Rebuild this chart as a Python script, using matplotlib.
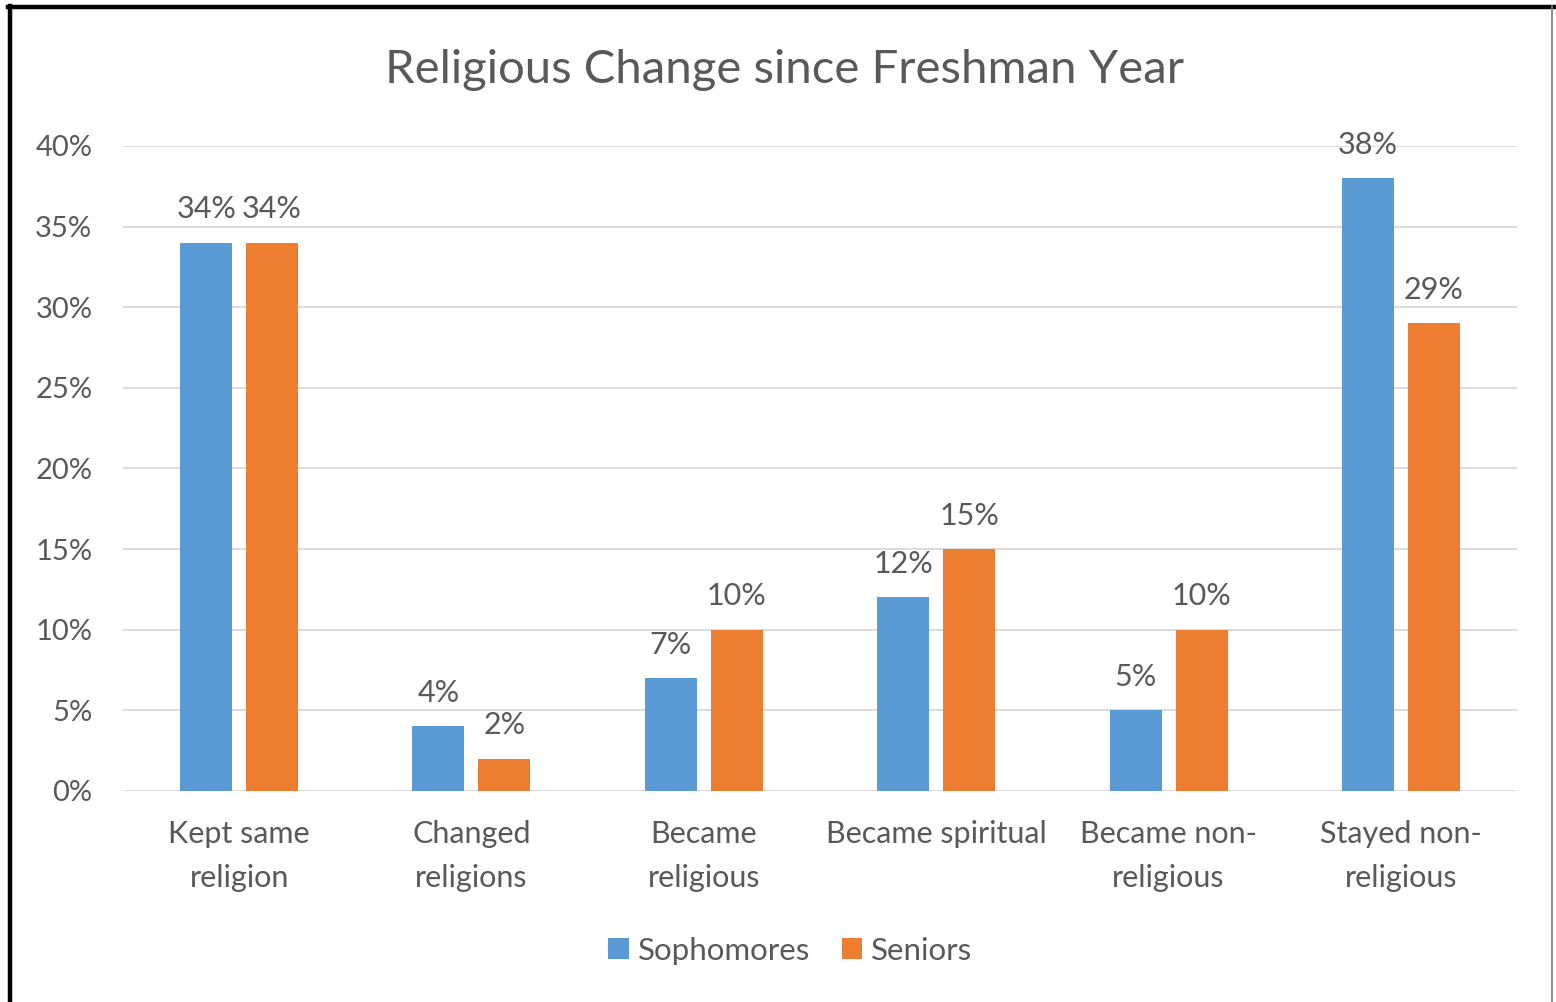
import matplotlib.pyplot as plt
import numpy as np
from matplotlib.lines import Line2D
from matplotlib.ticker import PercentFormatter

categories = ['Kept same\nreligion', 'Changed\nreligions', 'Became\nreligious',
              'Became spiritual', 'Became non-\nreligious', 'Stayed non-\nreligious']
sophomores = [34, 4, 7, 12, 5, 38]
seniors = [34, 2, 10, 15, 10, 29]
y_ticks = [0, 5, 10, 15, 20, 25, 30, 35, 40]

blue = '#5B9BD5'
orange = '#ED7D31'
grey_text = '#595959'

plt.rcParams['font.family'] = ['Lato', 'DejaVu Sans']

fig = plt.figure(figsize=(15.56, 10.02), dpi=100)
ax = fig.add_axes([0.0790, 0.2106, 0.8960, 0.6437])

x = np.arange(len(categories))
w = 0.224
off = 0.142
b1 = ax.bar(x - off, sophomores, w, color=blue, label='Sophomores', zorder=3)
b2 = ax.bar(x + off, seniors, w, color=orange, label='Seniors', zorder=3)

for bars in (b1, b2):
    for rect in bars:
        h = rect.get_height()
        ax.annotate(f'{h:g}%', (rect.get_x() + rect.get_width() / 2, h),
                    xytext=(0, 14), textcoords='offset points',
                    ha='center', va='bottom', fontsize=22, color=grey_text)

ax.set_xlim(-0.5, len(categories) - 0.5)
ax.set_ylim(0, 40)
ax.set_yticks(y_ticks)
ax.yaxis.set_major_formatter(PercentFormatter(decimals=0))
ax.set_xticks(x)
ax.set_xticklabels(categories, linespacing=1.7)
ax.tick_params(axis='y', length=0, pad=22, labelsize=21, labelcolor=grey_text)
ax.tick_params(axis='x', length=0, pad=21, labelsize=22, labelcolor=grey_text)
ax.grid(axis='y', color='#D9D9D9', linewidth=1.3, zorder=0)
for s in ax.spines.values():
    s.set_visible(False)

fig.text(0.504, 0.930, 'Religious Change since Freshman Year', ha='center', va='center',
         fontsize=34, color=grey_text)

fig.legend(handles=[b1, b2], loc='center', bbox_to_anchor=(0.508, 0.051), ncol=2,
           frameon=False, fontsize=22.5, labelcolor=grey_text, handlelength=0.65,
           handleheight=0.65, handletextpad=0.3, columnspacing=1.0)

# frame around the chart
fig.add_artist(Line2D([10, 10], [0, 996], transform=None, color='black', linewidth=3.2))
fig.add_artist(Line2D([8, 1556], [995.5, 995.5], transform=None, color='black', linewidth=3.2))
fig.add_artist(Line2D([1552, 1552], [0, 996], transform=None, color='#7F7F7F', linewidth=1.2))

fig.savefig('out.png', dpi=100, facecolor='white')
